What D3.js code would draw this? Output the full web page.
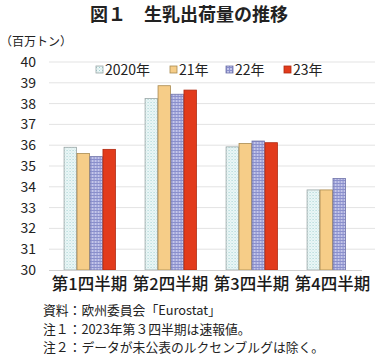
<!DOCTYPE html>
<html><head><meta charset="utf-8">
<script src="https://cdn.jsdelivr.net/npm/d3@7"></script>
<style>body{margin:0;background:#fff}svg{display:block}text{font-family:"Noto Sans CJK JP","Noto Sans",sans-serif}</style>
</head><body><svg id="c" width="380" height="359"></svg>
<script>
const categories = ["第1四半期","第2四半期","第3四半期","第4四半期"];
const seriesNames = ["2020年","21年","22年","23年"];
const s2020 = [35.9, 38.25, 35.92, 33.85];
const s2021 = [35.6, 38.86, 36.08, 33.85];
const s2022 = [35.45, 38.45, 36.2, 34.4];
const s2023 = [35.8, 38.65, 36.12, null];
const yTicks = [30,31,32,33,34,35,36,37,38,39,40];
const notes = ["資料：欧州委員会「Eurostat」","注１：2023年第３四半期は速報値。","注２：データが未公表のルクセンブルグは除く。"];

const series = [s2020, s2021, s2022, s2023];
const fills = ["url(#p0)", "#f6cd88", "url(#p2)", "#e23b1c"];
const strokes = ["#9aa6a6", "#a88a50", "#6e72a8", "#b02a10"];

const svg = d3.select("#c");
const defs = svg.append("defs");
const p0 = defs.append("pattern").attr("id","p0").attr("width",3).attr("height",3).attr("patternUnits","userSpaceOnUse");
p0.append("rect").attr("width",3).attr("height",3).attr("fill","#eef8f8");
p0.append("rect").attr("x",0).attr("y",0).attr("width",1).attr("height",1).attr("fill","#9fcfd0");
p0.append("rect").attr("x",1.5).attr("y",1.5).attr("width",1).attr("height",1).attr("fill","#b8dcdc");
const p2 = defs.append("pattern").attr("id","p2").attr("width",3).attr("height",3).attr("patternUnits","userSpaceOnUse");
p2.append("rect").attr("width",3).attr("height",3).attr("fill","#c4c6ea");
p2.append("rect").attr("x",0).attr("y",0).attr("width",3).attr("height",1).attr("fill","#8a8fcc");
p2.append("rect").attr("x",0).attr("y",0).attr("width",1).attr("height",3).attr("fill","#8a8fcc");

const x0 = d3.scaleBand().domain(categories).range([49, 373]).paddingInner(0.36).paddingOuter(0.18);
const x1 = d3.scaleBand().domain(seriesNames).range([0, x0.bandwidth()]);
const y = d3.scaleLinear().domain([30, 40]).range([270, 62]);

// title
svg.append("text").attr("x",189).attr("y",21).attr("text-anchor","middle")
  .attr("font-size",18).attr("font-weight","bold").attr("fill","#222").text("図１　生乳出荷量の推移");
svg.append("text").attr("x",0).attr("y",46).attr("font-size",12).attr("fill","#222").text("（百万トン）");

// grid
svg.append("g").selectAll("line").data(yTicks.filter(d=>d>30)).join("line")
  .attr("x1",49).attr("x2",375).attr("y1",d=>y(d)).attr("y2",d=>y(d))
  .attr("stroke","#e3e3e3").attr("stroke-width",1);

// y axis labels
const yAxis = d3.axisLeft(y).tickValues(yTicks).tickSize(0).tickPadding(0);
const gy = svg.append("g").attr("transform","translate(36,0)").call(yAxis);
gy.select(".domain").remove();
gy.selectAll("text").attr("font-size",14).attr("fill","#222").attr("font-family","Liberation Sans, Arial, sans-serif");

// bars
const groups = svg.append("g").selectAll("g").data(categories).join("g")
  .attr("transform", c => `translate(${x0(c)},0)`);
groups.selectAll("rect").data((c,i) => series.map((s,k)=>({k, v:s[i]})).filter(d=>d.v!=null)).join("rect")
  .attr("x", d => x1(seriesNames[d.k]) + 0.5)
  .attr("width", x1.bandwidth() - 0.5)
  .attr("y", d => y(d.v))
  .attr("height", d => y(30) - y(d.v))
  .attr("fill", d => fills[d.k])
  .attr("stroke", d => strokes[d.k]).attr("stroke-width",0.8);

// x axis
const xAxis = d3.axisBottom(x0).tickSize(0).tickPadding(6);
const gx = svg.append("g").attr("transform","translate(0,270)").call(xAxis);
gx.select(".domain").attr("stroke","#d0d0d0").attr("d","M49,0.5H362");
gx.selectAll("text").attr("font-size",16.5).attr("font-weight",500).attr("fill","#1a1a1a").attr("y",8);

// legend
const legX = [96, 170, 226, 284];
const leg = svg.append("g").selectAll("g").data(seriesNames).join("g")
  .attr("transform",(d,i)=>`translate(${legX[i]},70)`);
leg.append("rect").attr("x",0).attr("y",-4).attr("width",7).attr("height",7)
  .attr("fill",(d,i)=>fills[i]).attr("stroke",(d,i)=>strokes[i]).attr("stroke-width",0.8);
leg.append("text").attr("x",9).attr("y",0).attr("dy","0.36em").attr("font-size",14).attr("fill","#222")
  .text(d=>d);

// notes
svg.append("g").selectAll("text").data(notes).join("text")
  .attr("x",43).attr("y",(d,i)=>315+i*18.5).attr("font-size",12.8).attr("fill","#222").text(d=>d);
</script></body></html>
